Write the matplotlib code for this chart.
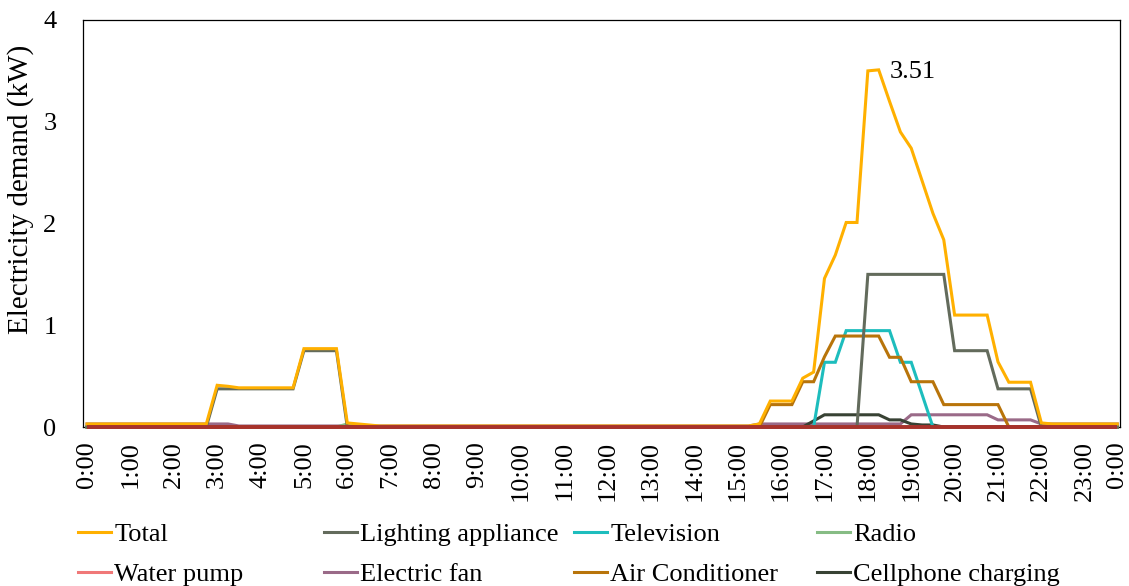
import matplotlib
matplotlib.use("Agg")
import matplotlib.pyplot as plt
from matplotlib.lines import Line2D

plt.rcParams['font.family'] = ['Liberation Serif', 'DejaVu Serif']

# 15-minute intervals, index 0 = 0:00 ... 95 = 23:45
tick_idx = list(range(0, 96, 4)) + [95]
tick_labels = [f"{h}:00" for h in range(24)] + ["0:00"]

total = ([0.03] * 12 + [0.41, 0.40] + [0.385] * 6 + [0.77] * 4 +
         [0.04, 0.03, 0.02] + [0.01] * 35 +
         [0.03, 0.255, 0.255, 0.255, 0.48, 0.54, 1.46, 1.69, 2.01, 2.01,
          3.50, 3.51, 3.20, 2.90, 2.74, 2.42, 2.10, 1.84, 1.10, 1.10, 1.10, 1.10,
          0.64, 0.44, 0.44, 0.44, 0.04] + [0.03] * 7)
lighting = ([0.0] * 12 + [0.375] * 8 + [0.75] * 4 + [0.0] * 48 +
            [1.5] * 8 + [0.75] * 4 + [0.375] * 4 + [0.0] * 8)
television = ([0.0] * 68 + [0.636, 0.636] + [0.947] * 5 + [0.636, 0.636, 0.32] +
              [0.0] * 18)
radio = [0.0] * 24 + [0.03, 0.02, 0.01] + [0.0] * 69
water_pump = [0.0] * 96
electric_fan = ([0.03] * 14 + [0.01] * 48 + [0.03] * 14 + [0.12] * 8 +
                [0.07] * 4 + [0.03] * 8)
air_conditioner = ([0.0] * 63 + [0.22] * 3 + [0.445] * 2 + [0.69] + [0.894] * 5 +
                   [0.685] * 2 + [0.445] * 3 + [0.22] * 6 + [0.0] * 11)
cellphone = ([0.0] * 67 + [0.06] + [0.12] * 6 + [0.07] * 2 + [0.03, 0.02, 0.02] +
             [0.0] * 17)

series = [
    ("Total", total, "#FFB000"),
    ("Lighting appliance", lighting, "#636B5C"),
    ("Television", television, "#1DBDBD"),
    ("Radio", radio, "#86BC84"),
    ("Water pump", water_pump, "#F07878"),
    ("Electric fan", electric_fan, "#9A6A88"),
    ("Air Conditioner", air_conditioner, "#B8740A"),
    ("Cellphone charging", cellphone, "#384234"),
]

fig = plt.figure(figsize=(11.29, 5.86), dpi=100)
ax = fig.add_axes([83 / 1129, 1 - 427 / 586, (1120 - 83) / 1129, (427 - 20) / 586])

x = list(range(96))
draw_order = ["Electric fan", "Radio", "Cellphone charging",
              "Television", "Air Conditioner", "Lighting appliance", "Total",
              "Water pump"]
lookup = {n: (v, c) for n, v, c in series}
for z, name in enumerate(draw_order):
    vals, col = lookup[name]
    if name == "Water pump":
        ax.plot(x, vals, color="#A8322B", lw=2.8, zorder=20,
                solid_capstyle='butt', clip_on=False)
    else:
        ax.plot(x, vals, color=col, lw=2.2, zorder=3 + z,
                solid_joinstyle='miter', clip_on=False)

ax.set_xlim(-0.37, 95.25)
ax.set_ylim(0, 4)
ax.set_yticks([0, 1, 2, 3, 4])
ax.set_xticks(tick_idx)
ax.set_xticklabels(tick_labels, rotation=90, va='top', ha='center')
ax.tick_params(axis='both', length=0, labelsize=19)
ax.tick_params(axis='y', pad=19)
ax.tick_params(axis='x', pad=10)
ax.set_ylabel("Electricity demand (kW)", fontsize=21)
ax.yaxis.set_label_coords(-0.0475, 0.585)
for s in ax.spines.values():
    s.set_color("black")
    s.set_linewidth(0.9)

ax.annotate("3.51", xy=(73, 3.51), xytext=(74.0, 3.49), fontsize=19,
            va='center', ha='left')

# legend: 4 columns x 2 rows
col_x = [78, 324, 574, 817]
for c in range(4):
    hs = []
    for r in range(2):
        name, vals, col = series[r * 4 + c]
        hs.append(Line2D([0], [0], color=col, lw=2.2))
    labels = [series[c][0], series[4 + c][0]]
    fig.legend(hs, labels, loc='upper left',
               bbox_to_anchor=(col_x[c] / 1129, 1 - 523 / 586),
               frameon=False, fontsize=19, handlelength=1.25,
               handletextpad=0.12, labelspacing=0.6, borderpad=0,
               borderaxespad=0)

fig.savefig("out.png", dpi=100)
